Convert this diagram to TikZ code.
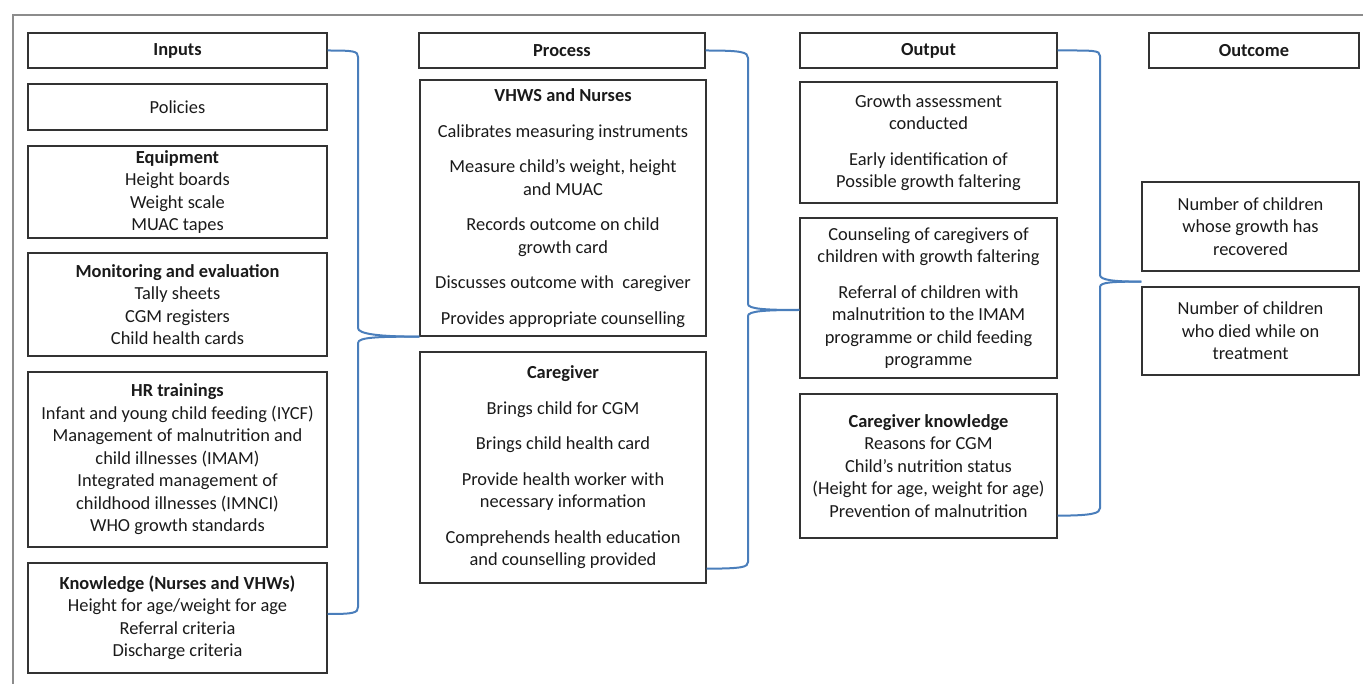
\documentclass[tikz,border=0pt]{standalone}
\usepackage{fontspec}
\setmainfont{Carlito}
\usetikzlibrary{calc}
\definecolor{brc}{HTML}{4A7EBB}
\definecolor{bxc}{HTML}{333333}
\definecolor{txc}{HTML}{1A1A1A}
\definecolor{frc}{HTML}{8C8C8C}
\begin{document}
\begin{tikzpicture}[x=1pt,y=-1pt,
  box/.style={draw=bxc, line width=1.3pt, align=center, text=txc, inner sep=0pt,
    font=\fontsize{18.4}{22.5}\selectfont},
  brace/.style={draw=brc, line width=2pt},
  frame/.style={draw=frc, line width=1.5pt}]
\useasboundingbox (0,0) rectangle (1363,684);
\draw[frame] (13,684) -- (13,15) -- (1363,15);
% Inputs
\node[box, minimum width=299pt, minimum height=35pt] (inputs) at (177.5,50.5) {\textbf{Inputs}};
\node[box, minimum width=299pt, minimum height=46pt] (policies) at (177.5,107) {Policies};
\node[box, minimum width=299pt, minimum height=92pt] (equip) at (177.5,192) {\textbf{Equipment}\\Height boards\\Weight scale\\MUAC tapes};
\node[box, minimum width=299pt, minimum height=103pt] (mon) at (177.5,304.5) {\textbf{Monitoring and evaluation}\\Tally sheets\\CGM registers\\Child health cards};
\node[box, minimum width=299pt, minimum height=175pt] (hr) at (177.5,459.5) {\textbf{HR trainings}\\Infant and young child feeding (IYCF)\\Management of malnutrition and\\child illnesses (IMAM)\\Integrated management of\\childhood illnesses (IMNCI)\\WHO growth standards};
\node[box, minimum width=299pt, minimum height=110pt] (know) at (177.5,618) {\textbf{Knowledge (Nurses and VHWs)}\\Height for age/weight for age\\Referral criteria\\Discharge criteria};
% Process
\node[box, minimum width=286pt, minimum height=35pt] (process) at (562,50.5) {\textbf{Process}};
\node[box, minimum width=286pt, minimum height=256pt] (vhws) at (563,208) {\textbf{VHWS and Nurses}\\[13pt]Calibrates measuring instruments\\[13pt]Measure child’s weight, height\\and MUAC\\[13pt]Records outcome on child\\growth card\\[13pt]Discusses outcome with~ caregiver\\[13pt]Provides appropriate counselling};
\node[box, minimum width=286pt, minimum height=231pt] (cg) at (563,467.5) {\textbf{Caregiver}\\[13pt]Brings child for CGM\\[13pt]Brings child health card\\[13pt]Provide health worker with\\necessary information\\[13pt]Comprehends health education\\and counselling provided};
% Output
\node[box, minimum width=257pt, minimum height=35pt] (output) at (928.5,50.5) {\textbf{Output}};
\node[box, minimum width=257pt, minimum height=121pt] (growth) at (928.5,142.5) {Growth assessment\\conducted\\[13pt]Early identification of\\Possible growth faltering};
\node[box, minimum width=257pt, minimum height=160pt] (counsel) at (928.5,298) {Counseling of caregivers of\\children with growth faltering\\[13pt]Referral of children with\\malnutrition to the IMAM\\programme or child feeding\\programme};
\node[box, minimum width=257pt, minimum height=144pt] (ck) at (928.5,466) {\textbf{Caregiver knowledge}\\Reasons for CGM\\Child’s nutrition status\\(Height for age, weight for age)\\Prevention of malnutrition};
% Outcome
\node[box, minimum width=210pt, minimum height=35pt] (outcome) at (1254,50.5) {\textbf{Outcome}};
\node[box, minimum width=217pt, minimum height=89pt] (rec) at (1250.5,226.5) {Number of children\\whose growth has\\recovered};
\node[box, minimum width=217pt, minimum height=88pt] (died) at (1250.5,331) {Number of children\\who died while on\\treatment};
% Braces
\draw[brace] (inputs.east) .. controls +(26,0) and +(0,-6) .. (358,57) -- (358,328)
  .. controls +(0,6) and +(-40,0) .. (vhws.south west);
\draw[brace] (vhws.south west) .. controls +(-40,0) and +(0,-6) .. (358,343) -- (358,607)
  .. controls +(0,6) and +(26,0) .. ($(know.east)+(0,-4)$);
\draw[brace] (process.east) .. controls +(36,0) and +(0,-6) .. (748,58) -- (748,304)
  .. controls +(0,5) and +(-34,0) .. ($(counsel.west)+(0,12)$);
\draw[brace] ($(counsel.west)+(0,12)$) .. controls +(-34,0) and +(0,-5) .. (748,316) -- (748,562)
  .. controls +(0,5) and +(36,0) .. ($(cg.south east)+(0,-15)$);
\draw[brace] (output.east) .. controls +(36,0) and +(0,-6) .. (1100,56) -- (1100,275)
  .. controls +(0,5) and +(-28,0) .. ($(rec.south west)+(0,10)$);
\draw[brace] ($(rec.south west)+(0,10)$) .. controls +(-28,0) and +(0,-5) .. (1100,287) -- (1100,508)
  .. controls +(0,5) and +(36,0) .. ($(ck.south east)+(0,-23)$);
\end{tikzpicture}
\end{document}
